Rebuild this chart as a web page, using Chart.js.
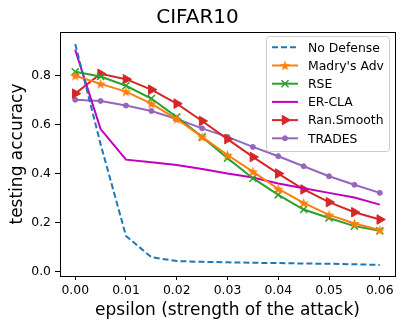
<!DOCTYPE html>
<html>
<head>
<meta charset="utf-8">
<script src="https://cdn.jsdelivr.net/npm/chart.js@4/dist/chart.umd.min.js"></script>
<style>
  html, body { margin: 0; padding: 0; background: #fff; }
</style>
</head>
<body>
<canvas id="chart" width="405" height="329"></canvas>
<script>
// Data
const epsilons = [0, 0.005, 0.01, 0.015, 0.02, 0.025, 0.03, 0.035, 0.04, 0.045, 0.05, 0.055, 0.06];
const noDefense = [0.93, 0.52, 0.145, 0.058, 0.042, 0.039, 0.037, 0.035, 0.034, 0.032, 0.031, 0.029, 0.026];
const madryAdv  = [0.80, 0.767, 0.735, 0.686, 0.623, 0.55, 0.476, 0.408, 0.337, 0.28, 0.231, 0.196, 0.169];
const rse       = [0.816, 0.797, 0.759, 0.707, 0.631, 0.55, 0.463, 0.381, 0.313, 0.253, 0.218, 0.185, 0.166];
const erCla     = [0.906, 0.582, 0.457, 0.446, 0.435, 0.419, 0.40, 0.384, 0.359, 0.34, 0.321, 0.302, 0.273];
const ranSmooth = [0.727, 0.808, 0.786, 0.743, 0.686, 0.615, 0.541, 0.468, 0.40, 0.335, 0.283, 0.242, 0.212];
const trades    = [0.702, 0.697, 0.678, 0.656, 0.623, 0.585, 0.55, 0.509, 0.471, 0.43, 0.389, 0.354, 0.321];

const xTicks = [0, 0.01, 0.02, 0.03, 0.04, 0.05, 0.06];
const yTicks = [0, 0.2, 0.4, 0.6, 0.8];

const FONT = "'DejaVu Sans', sans-serif";

// filled star like matplotlib '*'
function makeStar(color, size) {
  const c = document.createElement('canvas');
  c.width = size; c.height = size;
  const g = c.getContext('2d');
  const cx = size / 2, cy = size / 2, R = size / 2, r = R * 0.42;
  g.beginPath();
  for (let i = 0; i < 10; i++) {
    const rad = i % 2 === 0 ? R : r;
    const a = -Math.PI / 2 + i * Math.PI / 5;
    g.lineTo(cx + rad * Math.cos(a), cy + 0.5 + rad * Math.sin(a));
  }
  g.closePath();
  g.fillStyle = color;
  g.fill();
  return c;
}

const pts = arr => arr.map((v, i) => ({x: epsilons[i], y: v}));

const datasets = [
  {label: 'No Defense', data: pts(noDefense), borderColor: '#1f77b4', borderWidth: 2,
   borderDash: [6, 3], pointRadius: 0},
  {label: "Madry's Adv", data: pts(madryAdv), borderColor: '#ff7f0e', borderWidth: 2,
   pointStyle: makeStar('#ff7f0e', 11), pointRadius: 5},
  {label: 'RSE', data: pts(rse), borderColor: '#2ca02c', borderWidth: 2,
   pointStyle: 'crossRot', pointRadius: 5, pointBorderColor: '#2ca02c', pointBorderWidth: 1.5},
  {label: 'ER-CLA', data: pts(erCla), borderColor: '#bf00bf', borderWidth: 2, pointRadius: 0},
  {label: 'Ran.Smooth', data: pts(ranSmooth), borderColor: '#d62728', borderWidth: 2,
   pointStyle: 'triangle', rotation: 90, pointRadius: 5.5,
   pointBackgroundColor: '#d62728', pointBorderColor: '#d62728', pointBorderWidth: 1},
  {label: 'TRADES', data: pts(trades), borderColor: '#9467bd', borderWidth: 2,
   pointStyle: 'circle', pointRadius: 2.5,
   pointBackgroundColor: '#9467bd', pointBorderColor: '#9467bd', pointBorderWidth: 1}
];
datasets.forEach(d => { d.tension = 0; d.fill = false; d.pointHoverRadius = d.pointRadius;
  if (!d.pointBackgroundColor) d.pointBackgroundColor = d.borderColor;
  if (!d.pointBorderColor) d.pointBorderColor = d.borderColor; });

// frame + legend drawn inside the axes, matplotlib style
const framePlugin = {
  id: 'frame',
  afterDraw(chart) {
    const {ctx, chartArea: a} = chart;
    ctx.save();
    ctx.strokeStyle = '#000';
    ctx.lineWidth = 1;
    ctx.strokeRect(Math.round(a.left) + 0.5, Math.round(a.top) + 0.5,
      Math.round(a.right - a.left), Math.round(a.bottom - a.top));

    // legend
    const bx = 266, by = 36, bw = 123, bh = 115;
    ctx.fillStyle = 'rgba(255,255,255,0.8)';
    ctx.strokeStyle = '#cccccc';
    ctx.beginPath();
    ctx.roundRect(bx + 0.5, by + 0.5, bw, bh, 3);
    ctx.fill(); ctx.stroke();
    ctx.font = '12.4px ' + FONT;
    ctx.textBaseline = 'middle';
    chart.data.datasets.forEach((d, i) => {
      const y = 47.3 + i * 18.2;
      ctx.strokeStyle = d.borderColor;
      ctx.lineWidth = d.borderWidth;
      ctx.setLineDash(d.borderDash || []);
      ctx.beginPath(); ctx.moveTo(272, y); ctx.lineTo(298, y); ctx.stroke();
      ctx.setLineDash([]);
      if (d.pointRadius > 0) {
        ctx.fillStyle = d.pointBackgroundColor;
        ctx.strokeStyle = d.pointBorderColor;
        ctx.lineWidth = d.pointBorderWidth || 1;
        Chart.helpers.drawPoint(ctx, {pointStyle: d.pointStyle, rotation: d.rotation || 0,
          radius: d.pointRadius, borderWidth: d.pointBorderWidth || 0}, 285, y);
      }
      ctx.fillStyle = '#000';
      ctx.fillText(d.label, 308, y + 1);
    });
    ctx.restore();
  }
};

new Chart(document.getElementById('chart'), {
  type: 'line',
  data: {datasets},
  options: {
    responsive: false,
    animation: false,
    devicePixelRatio: 1,
    layout: {padding: {top: 0, right: 10, bottom: 0, left: 0}},
    plugins: {
      legend: {display: false},
      tooltip: {enabled: false},
      title: {display: true, text: 'CIFAR10', color: '#000',
        font: {family: FONT, size: 20, weight: 'normal'}, padding: {top: 5.5, bottom: 2.5}}
    },
    scales: {
      x: {
        type: 'linear', min: -0.003, max: 0.063,
        afterBuildTicks: s => { s.ticks = xTicks.map(v => ({value: v})); },
        afterFit: s => { s.height = 53; },
        ticks: {color: '#000', font: {family: FONT, size: 12.4}, padding: 3, maxRotation: 0,
          callback: v => v.toFixed(2)},
        grid: {display: true, drawOnChartArea: false, drawTicks: true, tickLength: 4, color: '#000'},
        border: {display: true, color: '#000'},
        title: {display: true, text: 'epsilon (strength of the attack)', color: '#000',
          font: {family: FONT, size: 17}, padding: {top: 3, bottom: 8}}
      },
      y: {
        min: -0.019, max: 0.979,
        afterBuildTicks: s => { s.ticks = yTicks.map(v => ({value: v})); },
        afterFit: s => { s.width = 60; },
        ticks: {color: '#000', font: {family: FONT, size: 12.4}, padding: 4,
          callback: v => v.toFixed(1)},
        grid: {display: true, drawOnChartArea: false, drawTicks: true, tickLength: 5, color: '#000'},
        border: {display: true, color: '#000'},
        title: {display: true, text: 'testing accuracy', color: '#000',
          font: {family: FONT, size: 17}, padding: {top: 7.5, bottom: 3.5}}
      }
    }
  },
  plugins: [framePlugin]
});
</script>
</body>
</html>
